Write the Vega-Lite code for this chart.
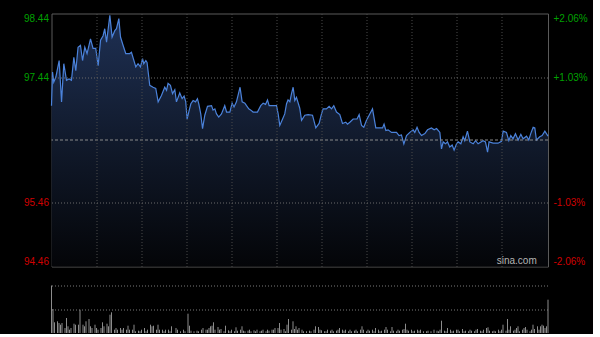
{
  "$schema": "https://vega.github.io/schema/vega-lite/v6.json",
  "background": "#000000",
  "padding": {"left": 22.5, "top": 12.5, "right": 5, "bottom": 0},
  "spacing": 17,
  "config": {"font": "Liberation Sans"},
  "datasets": {
    "price": [
      {"m":0,"p":96.99},{"m":0.7,"p":97.52},{"m":1.5,"p":97.36},{"m":2.9,"p":97.44},{"m":5.1,"p":97.70},{"m":6.7,"p":97.05},{"m":8.2,"p":97.65},{"m":10,"p":97.39},{"m":11.7,"p":97.41},{"m":13.3,"p":97.39},{"m":14.9,"p":97.75},{"m":16.2,"p":97.54},{"m":17.7,"p":97.91},{"m":19.3,"p":97.94},{"m":20.7,"p":97.70},{"m":22.2,"p":97.91},{"m":23.7,"p":97.81},{"m":26,"p":98.04},{"m":27.7,"p":97.89},{"m":29.5,"p":97.89},{"m":31.1,"p":97.62},{"m":32.7,"p":98.02},{"m":34.4,"p":98.09},{"m":35.5,"p":98.20},{"m":36.7,"p":97.99},{"m":38.9,"p":98.41},{"m":40.4,"p":98.07},{"m":42.2,"p":98.17},{"m":43.3,"p":98.20},{"m":44.9,"p":98.36},{"m":46,"p":98.07},{"m":47.7,"p":97.94},{"m":49.5,"p":97.81},{"m":52.2,"p":97.81},{"m":53.3,"p":97.83},{"m":56.2,"p":97.60},{"m":57.7,"p":97.65},{"m":59.3,"p":97.60},{"m":60.7,"p":97.73},{"m":61.5,"p":97.65},{"m":62.9,"p":97.70},{"m":63.7,"p":97.67},{"m":65.5,"p":97.31},{"m":67.7,"p":97.28},{"m":69.5,"p":97.26},{"m":71.1,"p":97.05},{"m":73.3,"p":97.15},{"m":75.5,"p":97.28},{"m":76.7,"p":97.23},{"m":77.7,"p":97.34},{"m":79.3,"p":97.31},{"m":80.7,"p":97.18},{"m":82.2,"p":97.24},{"m":83.3,"p":97.05},{"m":85.5,"p":97.19},{"m":87.1,"p":97.10},{"m":88.4,"p":97.14},{"m":89.5,"p":97.05},{"m":90.4,"p":96.78},{"m":91.5,"p":96.89},{"m":92.9,"p":97.02},{"m":94.4,"p":97.07},{"m":96,"p":97.05},{"m":97.3,"p":97.10},{"m":98.2,"p":97.02},{"m":99.5,"p":96.86},{"m":100.7,"p":96.63},{"m":102.2,"p":96.84},{"m":104,"p":96.98},{"m":106.7,"p":96.99},{"m":107.7,"p":96.92},{"m":108.9,"p":96.94},{"m":110,"p":96.86},{"m":111.5,"p":96.81},{"m":113.3,"p":96.86},{"m":115.5,"p":96.99},{"m":116.7,"p":96.89},{"m":118.9,"p":96.89},{"m":120.4,"p":97.03},{"m":121.7,"p":96.97},{"m":123.3,"p":97.05},{"m":125.7,"p":97.28},{"m":127.1,"p":97.05},{"m":128.9,"p":97.03},{"m":130,"p":96.99},{"m":131.5,"p":96.94},{"m":132.9,"p":96.92},{"m":134.4,"p":96.89},{"m":137.3,"p":96.89},{"m":139.5,"p":96.99},{"m":141.1,"p":97.03},{"m":142.7,"p":97.01},{"m":144,"p":97.08},{"m":145.1,"p":96.99},{"m":147.7,"p":96.99},{"m":150,"p":96.99},{"m":151.1,"p":96.86},{"m":152.2,"p":96.68},{"m":153.7,"p":96.76},{"m":155.5,"p":96.86},{"m":156.7,"p":97.02},{"m":157.7,"p":97.08},{"m":158.9,"p":97.05},{"m":160,"p":97.18},{"m":161.1,"p":97.28},{"m":162.2,"p":97.07},{"m":163.3,"p":97.12},{"m":165.5,"p":96.95},{"m":166.7,"p":96.76},{"m":168.9,"p":96.84},{"m":171.1,"p":96.85},{"m":174,"p":96.84},{"m":176.2,"p":96.64},{"m":178.4,"p":96.71},{"m":180,"p":96.86},{"m":181.1,"p":96.94},{"m":183.3,"p":96.94},{"m":185.1,"p":96.98},{"m":186.7,"p":96.94},{"m":188.2,"p":96.99},{"m":190,"p":96.89},{"m":192.2,"p":96.85},{"m":194,"p":96.71},{"m":196.2,"p":96.73},{"m":197.3,"p":96.70},{"m":198.9,"p":96.73},{"m":201.1,"p":96.78},{"m":203.7,"p":96.78},{"m":205.1,"p":96.85},{"m":206.7,"p":96.68},{"m":208.2,"p":96.65},{"m":210,"p":96.76},{"m":212.2,"p":96.86},{"m":214,"p":96.94},{"m":216.2,"p":96.64},{"m":218.9,"p":96.64},{"m":220.7,"p":96.64},{"m":221.7,"p":96.70},{"m":222.9,"p":96.60},{"m":224.4,"p":96.61},{"m":226.7,"p":96.57},{"m":230,"p":96.57},{"m":231.7,"p":96.52},{"m":233.3,"p":96.53},{"m":234.9,"p":96.39},{"m":236.7,"p":96.52},{"m":238.9,"p":96.57},{"m":241.1,"p":96.61},{"m":242.2,"p":96.57},{"m":243.7,"p":96.65},{"m":245.1,"p":96.57},{"m":246.7,"p":96.52},{"m":248.9,"p":96.55},{"m":250.7,"p":96.61},{"m":253.3,"p":96.64},{"m":255.1,"p":96.61},{"m":256.7,"p":96.63},{"m":258.2,"p":96.59},{"m":258.9,"p":96.57},{"m":260,"p":96.31},{"m":261.1,"p":96.42},{"m":262.7,"p":96.39},{"m":264,"p":96.42},{"m":265.5,"p":96.34},{"m":267.1,"p":96.37},{"m":268.4,"p":96.29},{"m":270,"p":96.39},{"m":271.1,"p":96.42},{"m":272.9,"p":96.39},{"m":274.4,"p":96.50},{"m":275.5,"p":96.44},{"m":277.3,"p":96.59},{"m":278.9,"p":96.42},{"m":281.1,"p":96.39},{"m":282.7,"p":96.44},{"m":284.4,"p":96.39},{"m":287.7,"p":96.44},{"m":289.3,"p":96.42},{"m":290.7,"p":96.26},{"m":291.7,"p":96.42},{"m":294.4,"p":96.40},{"m":297.7,"p":96.40},{"m":300,"p":96.43},{"m":301.1,"p":96.59},{"m":303.3,"p":96.57},{"m":304.9,"p":96.44},{"m":306.2,"p":96.52},{"m":307.7,"p":96.47},{"m":309.3,"p":96.55},{"m":311.1,"p":96.45},{"m":312.9,"p":96.54},{"m":314.4,"p":96.47},{"m":316.7,"p":96.51},{"m":318.2,"p":96.45},{"m":319.5,"p":96.55},{"m":321.1,"p":96.65},{"m":322.2,"p":96.64},{"m":323.3,"p":96.45},{"m":325.5,"p":96.50},{"m":327.1,"p":96.52},{"m":328.9,"p":96.59},{"m":331,"p":96.51}
    ],
    "vol": [
      {"m":0,"v":475},{"m":1,"v":240},{"m":2,"v":107},{"m":4,"v":117},{"m":5,"v":100},{"m":6,"v":83},{"m":7,"v":100},{"m":9,"v":50},{"m":10,"v":150},{"m":11,"v":67},{"m":12,"v":33},{"m":13,"v":50},{"m":15,"v":93},{"m":16,"v":83},{"m":18,"v":83},{"m":19,"v":233},{"m":21,"v":83},{"m":22,"v":67},{"m":23,"v":117},{"m":25,"v":140},{"m":26,"v":67},{"m":27,"v":50},{"m":29,"v":83},{"m":30,"v":50},{"m":31,"v":33},{"m":33,"v":50},{"m":34,"v":107},{"m":35,"v":67},{"m":37,"v":93},{"m":38,"v":67},{"m":39,"v":183},{"m":40,"v":207},{"m":42,"v":33},{"m":43,"v":50},{"m":44,"v":33},{"m":46,"v":50},{"m":47,"v":33},{"m":48,"v":50},{"m":50,"v":33},{"m":51,"v":73},{"m":52,"v":33},{"m":54,"v":33},{"m":55,"v":83},{"m":56,"v":17},{"m":58,"v":23},{"m":59,"v":17},{"m":60,"v":33},{"m":62,"v":50},{"m":63,"v":17},{"m":64,"v":33},{"m":66,"v":83},{"m":67,"v":67},{"m":68,"v":73},{"m":70,"v":33},{"m":71,"v":83},{"m":72,"v":33},{"m":74,"v":33},{"m":75,"v":17},{"m":76,"v":33},{"m":78,"v":33},{"m":79,"v":17},{"m":80,"v":67},{"m":83,"v":50},{"m":84,"v":33},{"m":86,"v":17},{"m":88,"v":33},{"m":89,"v":17},{"m":91,"v":193},{"m":92,"v":73},{"m":93,"v":23},{"m":95,"v":17},{"m":97,"v":23},{"m":98,"v":17},{"m":100,"v":33},{"m":101,"v":50},{"m":103,"v":33},{"m":104,"v":33},{"m":105,"v":50},{"m":106,"v":67},{"m":107,"v":73},{"m":108,"v":107},{"m":109,"v":33},{"m":111,"v":60},{"m":112,"v":33},{"m":113,"v":40},{"m":115,"v":17},{"m":116,"v":73},{"m":118,"v":27},{"m":119,"v":17},{"m":120,"v":33},{"m":122,"v":17},{"m":123,"v":57},{"m":124,"v":23},{"m":126,"v":33},{"m":127,"v":67},{"m":128,"v":23},{"m":129,"v":17},{"m":131,"v":23},{"m":132,"v":33},{"m":133,"v":17},{"m":135,"v":27},{"m":136,"v":17},{"m":137,"v":33},{"m":139,"v":17},{"m":140,"v":23},{"m":141,"v":33},{"m":143,"v":17},{"m":144,"v":33},{"m":145,"v":23},{"m":147,"v":33},{"m":148,"v":33},{"m":149,"v":50},{"m":151,"v":50},{"m":152,"v":100},{"m":153,"v":33},{"m":155,"v":40},{"m":156,"v":17},{"m":157,"v":83},{"m":158,"v":140},{"m":160,"v":33},{"m":161,"v":117},{"m":162,"v":40},{"m":163,"v":67},{"m":164,"v":33},{"m":165,"v":50},{"m":167,"v":33},{"m":168,"v":17},{"m":170,"v":17},{"m":172,"v":23},{"m":173,"v":17},{"m":175,"v":33},{"m":176,"v":67},{"m":178,"v":60},{"m":179,"v":33},{"m":180,"v":27},{"m":182,"v":17},{"m":183,"v":17},{"m":184,"v":33},{"m":186,"v":23},{"m":187,"v":33},{"m":188,"v":17},{"m":190,"v":23},{"m":191,"v":33},{"m":192,"v":50},{"m":194,"v":33},{"m":195,"v":23},{"m":196,"v":33},{"m":198,"v":17},{"m":199,"v":33},{"m":200,"v":17},{"m":202,"v":23},{"m":203,"v":33},{"m":204,"v":17},{"m":206,"v":33},{"m":207,"v":67},{"m":208,"v":33},{"m":210,"v":17},{"m":211,"v":33},{"m":212,"v":23},{"m":214,"v":33},{"m":215,"v":17},{"m":216,"v":50},{"m":218,"v":33},{"m":219,"v":17},{"m":220,"v":23},{"m":222,"v":33},{"m":223,"v":60},{"m":224,"v":33},{"m":226,"v":17},{"m":227,"v":60},{"m":228,"v":23},{"m":230,"v":17},{"m":231,"v":33},{"m":232,"v":23},{"m":234,"v":33},{"m":235,"v":40},{"m":236,"v":93},{"m":237,"v":33},{"m":238,"v":23},{"m":240,"v":33},{"m":241,"v":17},{"m":242,"v":23},{"m":244,"v":33},{"m":245,"v":23},{"m":246,"v":33},{"m":248,"v":17},{"m":250,"v":17},{"m":251,"v":23},{"m":253,"v":17},{"m":255,"v":33},{"m":257,"v":23},{"m":258,"v":17},{"m":259,"v":33},{"m":260,"v":123},{"m":262,"v":23},{"m":263,"v":17},{"m":264,"v":50},{"m":266,"v":33},{"m":267,"v":17},{"m":268,"v":23},{"m":270,"v":33},{"m":271,"v":33},{"m":272,"v":17},{"m":274,"v":40},{"m":275,"v":17},{"m":276,"v":23},{"m":278,"v":17},{"m":279,"v":33},{"m":280,"v":23},{"m":282,"v":17},{"m":283,"v":33},{"m":284,"v":40},{"m":286,"v":23},{"m":287,"v":17},{"m":288,"v":33},{"m":290,"v":50},{"m":291,"v":57},{"m":292,"v":23},{"m":294,"v":17},{"m":295,"v":23},{"m":296,"v":17},{"m":298,"v":33},{"m":299,"v":17},{"m":300,"v":33},{"m":301,"v":83},{"m":303,"v":23},{"m":304,"v":140},{"m":305,"v":33},{"m":306,"v":67},{"m":308,"v":23},{"m":309,"v":33},{"m":310,"v":50},{"m":311,"v":67},{"m":312,"v":17},{"m":314,"v":33},{"m":315,"v":50},{"m":316,"v":60},{"m":317,"v":33},{"m":319,"v":17},{"m":320,"v":33},{"m":321,"v":83},{"m":322,"v":40},{"m":324,"v":67},{"m":325,"v":33},{"m":326,"v":67},{"m":327,"v":83},{"m":328,"v":73},{"m":329,"v":50},{"m":330,"v":67},{"m":331,"v":333}
    ]
  },
  "vconcat": [
    {
      "width": 496.5,
      "height": 253,
      "view": {"stroke": "#5a5a5a", "strokeWidth": 1},
      "layer": [
        {
          "data": {"name": "price"},
          "mark": {
            "type": "area",
            "color": {
              "gradient": "linear", "x1": 0, "y1": 0, "x2": 0, "y2": 1,
              "stops": [
                {"offset": 0, "color": "#1e3054"},
                {"offset": 0.5, "color": "#111a2c"},
                {"offset": 1, "color": "#040508"}
              ]
            }
          },
          "encoding": {
            "x": {
              "field": "m", "type": "quantitative",
              "scale": {"domain": [0, 331], "nice": false, "zero": false},
              "axis": {
                "values": [30, 60, 90, 120, 150, 180, 210, 240, 270, 300],
                "labels": false, "ticks": false, "domain": false, "title": null,
                "grid": true, "gridColor": "#4a4a4a", "gridDash": [1, 2], "zindex": 1
              }
            },
            "y": {
              "field": "p", "type": "quantitative",
              "scale": {"domain": [94.46, 98.44], "nice": false, "zero": false},
              "axis": {
                "orient": "left",
                "values": [94.46, 95.46, 97.44, 98.44],
                "format": ".2f",
                "labelFlush": true,
                "ticks": false, "domain": false, "title": null,
                "labelPadding": 3, "labelFontSize": 10, "labelFont": "Liberation Sans",
                "labelColor": {"condition": {"test": "datum.value > 96.45", "value": "#00a000"}, "value": "#d00000"},
                "grid": true, "gridColor": "#6a6a6a", "gridDash": [1, 2],
                "gridOpacity": {"condition": {"test": "datum.value < 95 || datum.value > 98", "value": 0}, "value": 1},
                "zindex": 1
              }
            },
            "y2": {"datum": 94.46}
          }
        },
        {
          "data": {"name": "price"},
          "mark": {"type": "line", "color": "#4b82da", "strokeWidth": 1.2},
          "encoding": {
            "x": {"field": "m", "type": "quantitative"},
            "y": {
              "field": "p", "type": "quantitative",
              "axis": {
                "orient": "right",
                "values": [94.46, 95.46, 97.44, 98.44],
                "labelExpr": "(datum.value > 96.45 ? '+' : '-') + format(abs(datum.value - 96.45) / 96.45 * 100, '.2f') + '%'",
                "labelFlush": true,
                "ticks": false, "domain": false, "title": null, "grid": false,
                "labelPadding": 5, "labelFontSize": 10, "labelFont": "Liberation Sans",
                "labelColor": {"condition": {"test": "datum.value > 96.45", "value": "#00a000"}, "value": "#d00000"}
              }
            }
          }
        },
        {
          "data": {"values": [{}]},
          "mark": {"type": "rule", "color": "#8a8a8a", "strokeDash": [3, 2], "strokeWidth": 1},
          "encoding": {"y": {"datum": 96.45, "type": "quantitative", "axis": null}}
        },
        {
          "data": {"values": [{}]},
          "mark": {"type": "text", "align": "right", "baseline": "bottom", "dy": -1, "fontSize": 10, "font": "Liberation Sans", "color": "#b4b4b4"},
          "encoding": {
            "x": {"datum": 323.5, "type": "quantitative"},
            "y": {"datum": 94.46, "type": "quantitative", "axis": null},
            "text": {"value": "sina.com"}
          }
        }
      ],
      "resolve": {"axis": {"y": "independent"}}
    },
    {
      "width": 496.5,
      "height": 47.5,
      "view": {"stroke": null},
      "data": {"name": "vol"},
      "mark": {"type": "rule", "color": "#8c8c8c", "strokeWidth": 1},
      "encoding": {
        "x": {"field": "m", "type": "quantitative", "scale": {"domain": [0, 331], "nice": false, "zero": false}, "axis": null},
        "y": {
          "field": "v", "type": "quantitative",
          "scale": {"domain": [0, 475], "nice": false},
          "axis": {
            "values": [237.5, 475], "labels": false, "ticks": false, "domain": false, "title": null,
            "grid": true, "gridColor": "#7a7a7a", "gridDash": [1, 2]
          }
        },
        "y2": {"datum": 0}
      }
    }
  ]
}
